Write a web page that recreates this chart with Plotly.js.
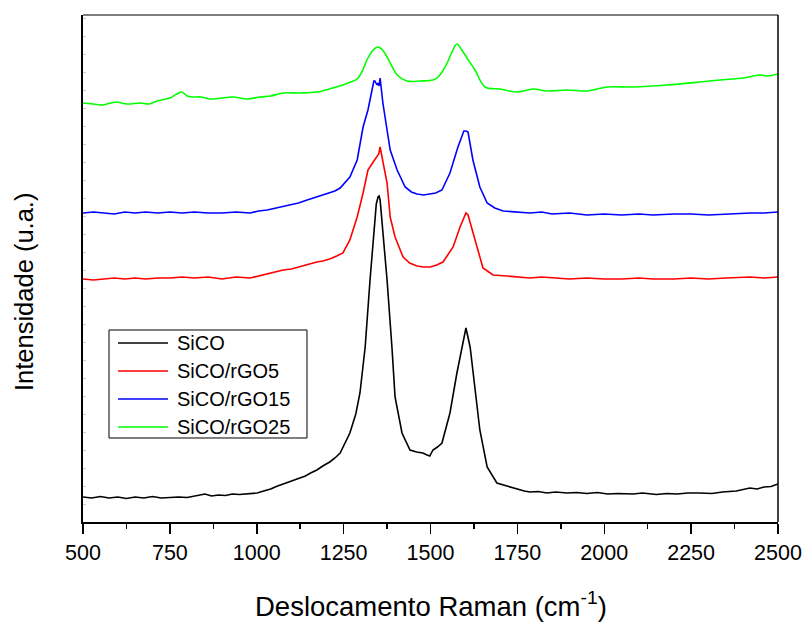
<!DOCTYPE html>
<html>
<head>
<meta charset="utf-8">
<script src="https://cdn.plot.ly/plotly-3.0.1.min.js"></script>
<style>html,body{margin:0;padding:0;background:#fff;}#chart{width:803px;height:626px;}</style>
</head>
<body>
<div id="chart"></div>
<script>
// Raman shift (cm^-1) and intensity (a.u., stacked offsets as in the figure)
const seriesNames = ["SiCO", "SiCO/rGO5", "SiCO/rGO15", "SiCO/rGO25"];
const seriesColors = ["#000000", "#ff0000", "#0000ff", "#00ff00"];

const xBlack = [500,525,550,575,600,625,650,675,700,725,750,775,800,825,851,870,890,910,930,950,975,1001,1020,1040,1060,1076,1101,1120,1140,1155,1173,1190,1210,1225,1240,1268,1285,1297,1312,1326,1337,1344,1349,1352,1355,1363,1375,1389,1398,1418,1441,1460,1478,1490,1498,1507,1520,1533,1556,1576,1591,1602,1614,1628,1642,1663,1691,1720,1749,1770,1786,1810,1835,1860,1893,1920,1950,1980,2010,2040,2083,2110,2150,2180,2210,2240,2275,2310,2340,2380,2419,2440,2460,2480,2500];
const yBlack = [25,24,25.5,24,25,23.5,25,24,25.5,24,24.5,25,24.5,26,28,26,27,26.5,28,27.5,28.5,29,31,33,36,38,41,43,46,49,52,56,60,64,69,89,108,129,175,242,292,318,325,326,322,292,242,175,125,89,72,70,69,67,66,72,75,79,109,149,175,194,175,135,92,55,39,36,33,31,30,30.5,29,30,29,29.5,28.5,29.5,28,28.5,28,29,27.5,28.5,28,29,29,28.5,30,31,34,33,35,35.5,38];

const xRed = [500,530,560,590,620,650,680,715,750,785,820,860,900,940,981,1005,1030,1055,1076,1100,1120,1145,1173,1190,1210,1230,1248,1268,1289,1306,1320,1335,1346,1351,1355,1363,1375,1384,1398,1421,1440,1461,1480,1499,1518,1536,1565,1585,1596,1602,1608,1614,1634,1651,1680,1720,1749,1786,1820,1850,1900,1950,2000,2050,2100,2140,2200,2250,2300,2350,2420,2460,2500];
const yRed = [243,242,243,244,243,244,243,244,244,245,244,245,243,245,244,246,248,250,252,253,255,257,260,261,263,266,269,282,305,329,352,360,365,368,375,362,339,305,285,265,259,256,255,255,257,260,275,295,305,309,307,299,275,254,247,246,245,244,245,244,243,244,243,243,244,243,243,244,243,244,245,244,245];

const xBlue = [500,530,560,590,620,650,680,715,750,785,820,860,900,940,981,1005,1030,1055,1076,1100,1120,1145,1173,1190,1210,1225,1240,1268,1289,1306,1320,1332,1337,1340,1346,1349,1352,1355,1363,1375,1384,1404,1427,1445,1461,1480,1499,1515,1533,1556,1579,1596,1602,1608,1622,1642,1663,1685,1709,1750,1786,1820,1850,1900,1950,2000,2050,2100,2140,2200,2250,2300,2350,2420,2460,2500];
const yBlue = [309,310,309,308,310,309,310,309,310,309,310,309,309,310,309,311,312,314,315,317,319,322,325,327,329,331,334,345,362,395,412,435,441,441,437,439,436,444,419,392,372,352,335,330,328,327,328,329,332,349,375,391,391,390,362,335,319,314,311,310,309,310,308,309,307,308,307,308,307,308,308,307,308,309,309,310];

const xGreen = [500,530,558,580,598,627,664,690,713,750,770,785,800,817,840,866,900,932,972,1009,1040,1076,1124,1173,1219,1248,1270,1289,1305,1317,1335,1349,1362,1375,1390,1404,1432,1470,1507,1522,1535,1548,1562,1576,1590,1605,1628,1657,1700,1749,1795,1835,1893,1950,2008,2083,2181,2275,2333,2400,2448,2470,2500];
const yGreen = [419,418,417,419,420,418,419,418,421,424,428,430,426,425,425,423,424,425,423,425,426,429,429,430,434,437,440,443,452,462,472,475,472,465,455,447,441,441,442,445,451,459,470,478,472,464,452,435,433,430,433,431,432,431,435,435,437,440,442,444,447,446,448];

const xTickVals = [500,750,1000,1250,1500,1750,2000,2250,2500];
const xTickText = ["500","750","1000","1250","1500","1750","2000","2250","2500"];

const FONT = "Liberation Sans, Arial, Helvetica, sans-serif";

const xs = [xBlack, xRed, xBlue, xGreen];
const ys = [yBlack, yRed, yBlue, yGreen];

const traces = seriesNames.map((name, i) => ({
  x: xs[i], y: ys[i], name: name, type: "scatter", mode: "lines",
  line: {color: seriesColors[i], width: 1.6, shape: i === 3 ? "spline" : "linear"}
}));

// Legend drawn in the frame's own paper coordinates (box, sample lines, labels)
const legBox = {x0: 0.0374, x1: 0.3223, y0: 0.1657, y1: 0.3787};
const legRows = [0.3531, 0.2978, 0.2426, 0.1874];
const shapes = [
  {type: "line", xref: "paper", yref: "paper", x0: 0, x1: 1, y0: 1, y1: 1, line: {color: "#555", width: 1.5}},
  {type: "line", xref: "paper", yref: "paper", x0: 1, x1: 1, y0: 0, y1: 1, line: {color: "#000", width: 1.5}},
  {type: "rect", xref: "paper", yref: "paper", x0: legBox.x0, x1: legBox.x1, y0: legBox.y0, y1: legBox.y1,
   fillcolor: "#ffffff", line: {color: "#000", width: 1}, layer: "above"}
];
const annotations = [
  {text: "Deslocamento Raman (cm<sup>-1</sup>)", xref: "paper", yref: "paper",
   x: 0.5, y: -0.1637, xanchor: "center", yanchor: "middle", showarrow: false,
   font: {family: FONT, size: 27.5, color: "#000"}},
  {text: "Intensidade (u.a.)", xref: "paper", yref: "paper", textangle: -90,
   x: -0.0849, y: 0.4536, xanchor: "center", yanchor: "middle", showarrow: false,
   font: {family: FONT, size: 25.5, color: "#000"}}
];
seriesNames.forEach((name, i) => {
  shapes.push({type: "line", xref: "paper", yref: "paper", x0: 0.0504, x1: 0.1223,
    y0: legRows[i], y1: legRows[i], line: {color: seriesColors[i], width: 1.6}, layer: "above"});
  annotations.push({text: name, xref: "paper", yref: "paper", x: 0.1324, y: legRows[i],
    xanchor: "left", yanchor: "middle", showarrow: false,
    font: {family: FONT, size: 20, color: "#000"}});
});

const layout = {
  width: 803, height: 626,
  margin: {l: 83, r: 25, t: 15, b: 104},
  paper_bgcolor: "#ffffff", plot_bgcolor: "#ffffff",
  font: {family: FONT, color: "#000"},
  showlegend: false,
  xaxis: {
    range: [500, 2500], showgrid: false, zeroline: false,
    tickmode: "array", tickvals: xTickVals, ticktext: xTickText,
    ticks: "outside", ticklen: 10, tickwidth: 1.5, tickcolor: "#000",
    minor: {dtick: 125, tick0: 500, ticks: "outside", ticklen: 5, tickwidth: 1.5, tickcolor: "#000", showgrid: false},
    showline: true, linecolor: "#000", linewidth: 2,
    tickfont: {family: FONT, size: 21.5, color: "#000"}
  },
  yaxis: {
    range: [0, 507], showgrid: false, zeroline: false,
    showticklabels: false,
    ticks: "inside", ticklen: 3, tickwidth: 1, tickcolor: "#cccccc", dtick: 18,
    showline: true, linecolor: "#000", linewidth: 2
  },
  shapes: shapes,
  annotations: annotations
};

Plotly.newPlot("chart", traces, layout, {displayModeBar: false, staticPlot: true});
</script>
</body>
</html>
